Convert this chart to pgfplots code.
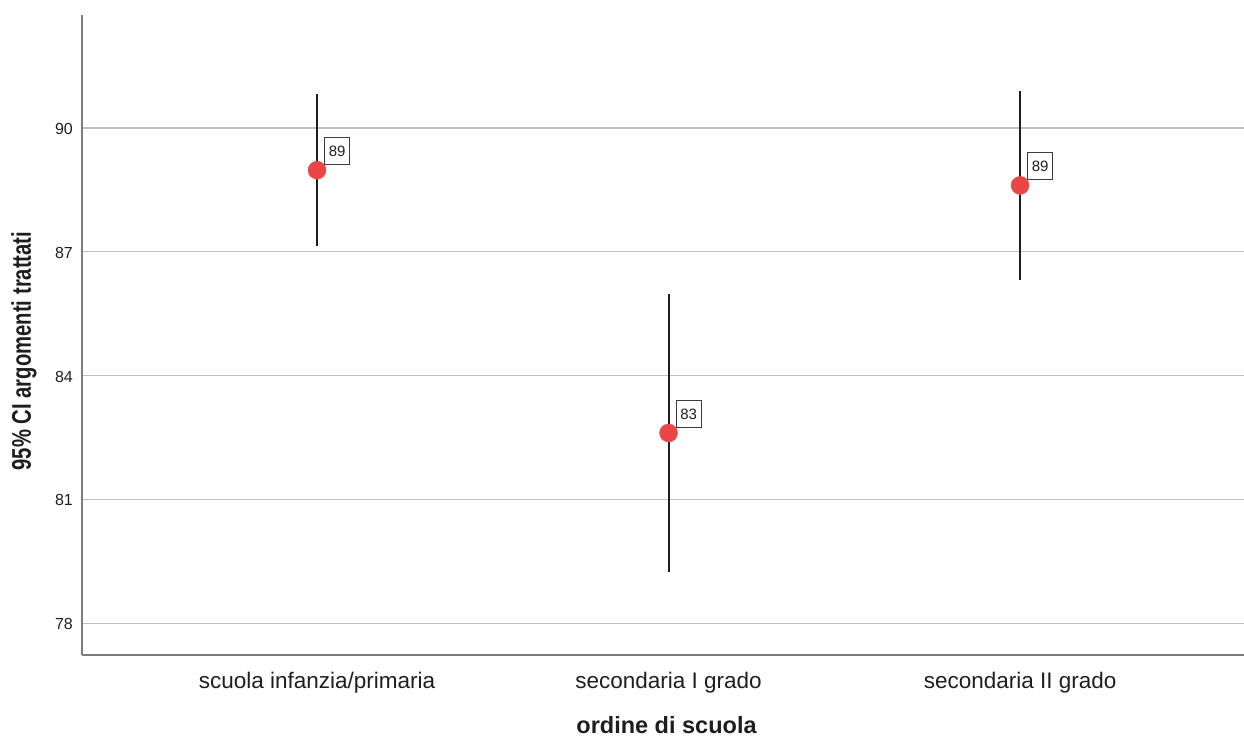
\documentclass[border=0pt]{standalone}
\usepackage{fontspec}
\setmainfont{Liberation Sans}
\newfontfamily\narrowbold[FakeStretch=0.75]{Liberation Sans}
\usepackage{pgfplots}
\pgfplotsset{compat=1.18}
\usepackage{pgfplotstable}
\definecolor{ptred}{RGB}{235,70,70}
\definecolor{gridc}{RGB}{192,192,192}
\definecolor{axc}{RGB}{125,125,125}
\definecolor{txt}{RGB}{30,30,30}
\pgfplotstableread{
x y ep em lab
0 88.98 1.84 1.85 89
1 82.61 3.36 3.37 83
2 88.61 2.30 2.29 89
}\datatable
\begin{document}
\begin{tikzpicture}
\useasboundingbox (-82bp,-83bp) rectangle (1162bp,655bp);
\begin{axis}[
 scale only axis, width=1162bp, height=640bp,
 xmin=-0.6686, xmax=2.637, ymin=77.23, ymax=92.74,
 axis x line*=bottom, axis y line*=left,
 axis line style={-, draw=axc, line width=1.3bp},
 xtick={0,1,2},
 xticklabels={scuola infanzia/primaria, secondaria I grado, secondaria II grado},
 ytick={78,81,84,87,90},
 major tick length=0pt,
 ymajorgrids, grid style={gridc, line width=1.3bp},
 /pgf/number format/assume math mode=true,
 xticklabel style={anchor=base, yshift=-33bp, font=\fontsize{22.5bp}{27bp}\selectfont, text=txt},
 yticklabel style={anchor=east, xshift=-9bp, yshift=-1bp, inner sep=0pt, font=\fontsize{16bp}{18bp}\selectfont, text=txt},
 xlabel={ordine di scuola},
 xlabel style={at={(axis description cs:0.503,-0.1226)}, anchor=base, font=\bfseries\fontsize{23.5bp}{28bp}\selectfont, text=txt},
 ylabel={95\% CI argomenti trattati},
 ylabel style={at={(axis description cs:-0.0499,0.475)}, anchor=center, font=\narrowbold\bfseries\fontsize{27bp}{32bp}\selectfont, text=txt},
]
\addplot[only marks, mark=*, mark size=9bp, mark options={fill=ptred, draw=ptred},
 nodes near coords, point meta=explicit symbolic,
 every node near coord/.append style={anchor=south west, xshift=7bp, yshift=5bp, draw={rgb,255:red,60;green,60;blue,60}, line width=1.2bp, text=txt, font=\fontsize{15bp}{18bp}\selectfont, inner sep=0pt, minimum width=25bp, minimum height=27bp},
 error bars/.cd, y dir=both, y explicit, error mark=none,
 error bar style={line width=2bp, color=txt},
] table[x=x, y=y, y error plus=ep, y error minus=em, meta=lab] {\datatable};
\end{axis}
\end{tikzpicture}
\end{document}
